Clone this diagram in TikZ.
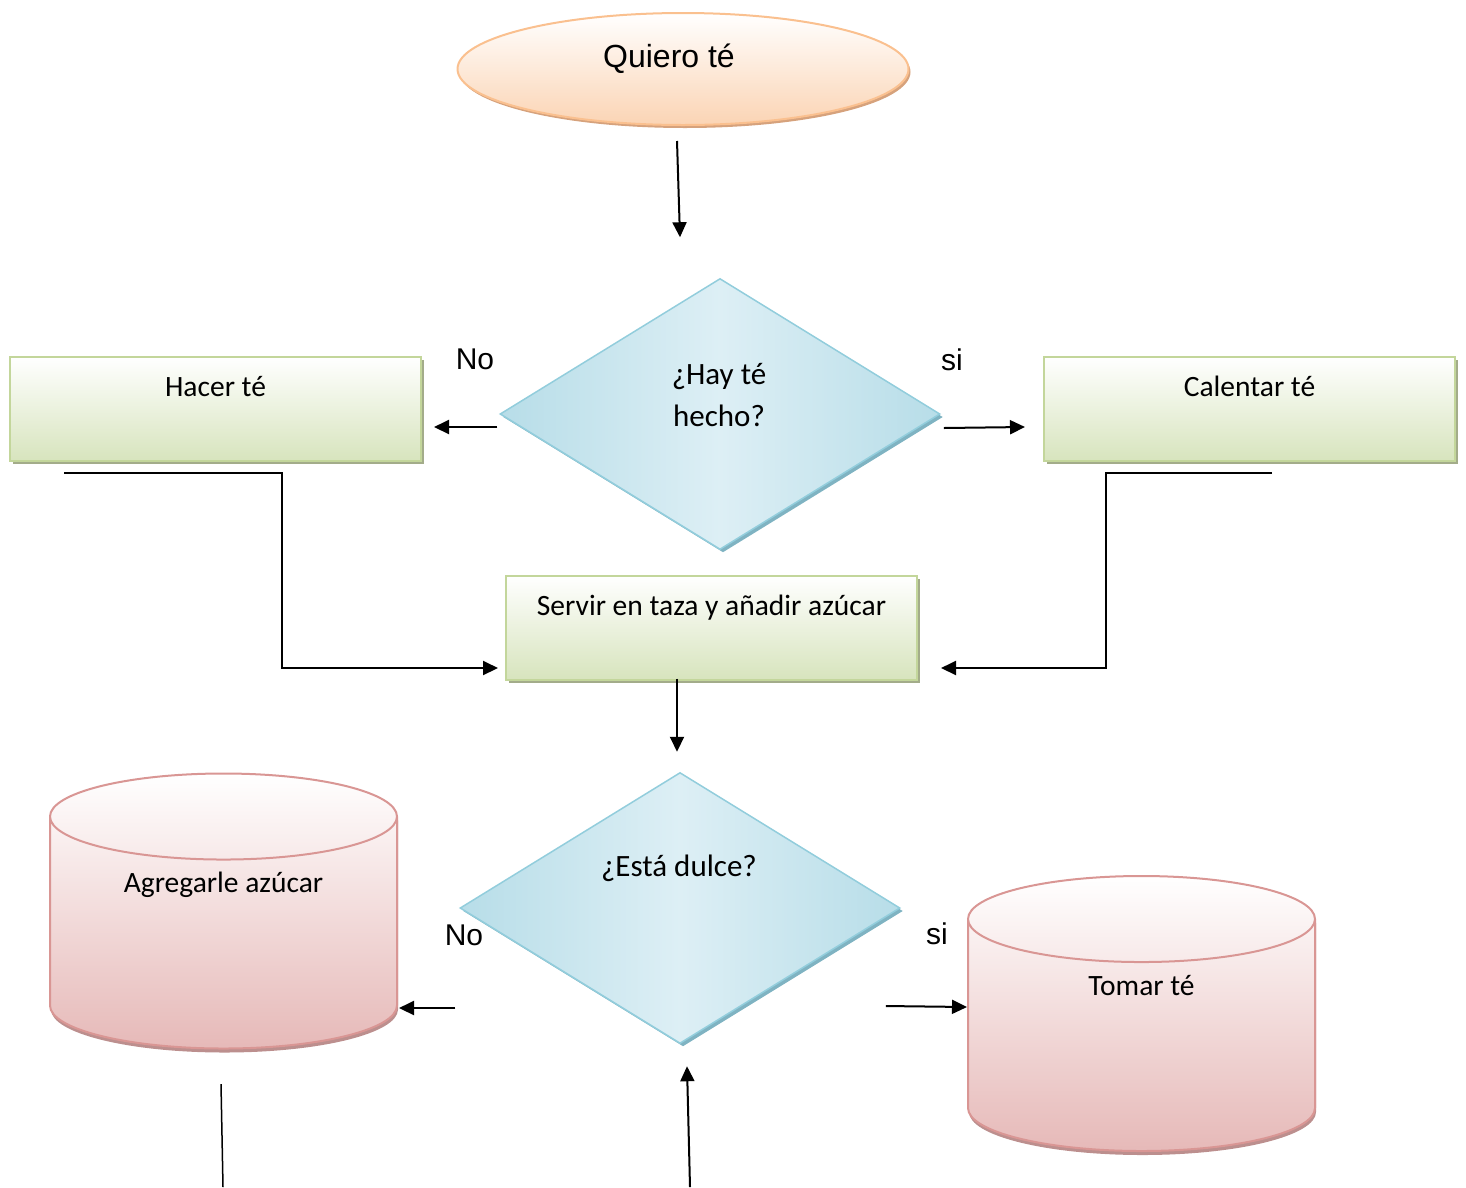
\documentclass[tikz,border=0pt]{standalone}
\usepackage{fontspec}
\setmainfont{Carlito}
\newfontfamily\arialfont{Liberation Sans}
\usetikzlibrary{arrows.meta, shapes.geometric, shadows}

\definecolor{peachline}{HTML}{FAC08F}
\definecolor{peachfill}{HTML}{FBD4B4}
\definecolor{peachshadow}{HTML}{D6A27C}
\definecolor{greenline}{HTML}{C3D69B}
\definecolor{greenfill}{HTML}{D7E4BD}
\definecolor{greenshadow}{HTML}{A3AC8A}
\definecolor{blueline}{HTML}{92CDDC}
\definecolor{bluefill}{HTML}{B7DDE8}
\definecolor{bluelight}{HTML}{DDEFF5}
\definecolor{blueshadow}{HTML}{7FB3C2}
\definecolor{pinkline}{HTML}{D99694}
\definecolor{pinkfill}{HTML}{E6B9B8}
\definecolor{pinkshadow}{HTML}{BC8F8E}

\begin{document}
\begin{tikzpicture}[x=1pt, y=-1pt,
  terminal/.style={ellipse, draw=peachline, line width=2pt, top color=white, bottom color=peachfill,
    drop shadow={shadow xshift=2pt, shadow yshift=-3pt, fill=peachshadow, opacity=1},
    minimum width=451pt, minimum height=112pt, inner sep=0pt,
    font=\arialfont\fontsize{32}{38}\selectfont, text height=25pt, text depth=29pt},
  proceso/.style={rectangle, draw=greenline, line width=2pt, top color=white, bottom color=greenfill,
    drop shadow={shadow xshift=3pt, shadow yshift=-3pt, fill=greenshadow, opacity=1},
    minimum width=411pt, minimum height=104pt, inner sep=0pt,
    font=\fontsize{29.5}{35}\selectfont, text height=20pt, text depth=45pt},
  decision/.style={diamond, draw=blueline, line width=1.5pt, left color=bluefill, right color=bluefill, middle color=bluelight,
    drop shadow={shadow xshift=3pt, shadow yshift=-3pt, fill=blueshadow, opacity=1},
    minimum width=440pt, minimum height=271pt, inner sep=0pt, aspect=1.62},
  almacen/.style={cylinder, shape border rotate=90, aspect=0.253, draw=pinkline, line width=2pt,
    top color=white, bottom color=pinkfill,
    drop shadow={shadow xshift=1pt, shadow yshift=-4pt, fill=pinkshadow, opacity=1},
    minimum width=347pt, minimum height=275pt, inner sep=0pt,
    execute at begin node={\hbox to 340pt\bgroup\hss},
    execute at end node={\hss\egroup},
    font=\fontsize{29.5}{35}\selectfont, text height=20pt, text depth=101pt},
  question/.style={font=\fontsize{31}{42}\selectfont, align=center, inner sep=0pt},
  answer/.style={font=\arialfont\fontsize{30}{34}\selectfont, anchor=base, inner sep=0pt},
  arr/.style={line width=2pt, -{Triangle[length=15pt, width=14pt]}},
  link/.style={line width=2pt}
]
\useasboundingbox (0,0) rectangle (1466,1187);

% shapes
\node[terminal] (quiero) at (683,69) {Quiero té\hspace*{28pt}};
\node[decision] (hay) at (720,414) {};
\node[question] (hayq) at (719,395) {¿Hay té\\hecho?};
\node[proceso] (hacer) at (215.5,409) {Hacer té};
\node[proceso] (calentar) at (1249.5,409) {Calentar té};
\node[proceso] (servir) at (711.5,627.5) {Servir en taza y añadir azúcar};
\node[decision] (dulce) at (680,908) {};
\node[question, anchor=base] (dulceq) at (679,876) {¿Está dulce?};
\node[almacen, anchor=shape center] (agregar) at (223.5,911) {Agregarle azúcar};
\node[almacen, anchor=shape center] (tomar) at (1141.5,1013.5) {Tomar té};

% answers
\node[answer] (no1) at (475,369) {No};
\node[answer] (si1) at (952,370) {si};
\node[answer] (no2) at (464,945) {No};
\node[answer] (si2) at (937,944) {si};

\coordinate (salida) at (223,1187);
\coordinate (entrada) at (690,1187);

% connectors
\draw[arr] ([shift={(-6,15)}]quiero.south) -- ([shift={(-40,-40.5)}]hay.north);
\draw[arr] ([shift={(-2,13)}]hay.west) -- ([shift={(12,18)}]hacer.east);
\draw[arr] ([shift={(3,14)}]hay.east) -- ([shift={(-18,18)}]calentar.west);
\draw[arr] ([shift={(-151.5,11)}]hacer.south) -- ++(218,0) |- ([shift={(-7,40.5)}]servir.west);
\draw[arr] ([shift={(22.5,11)}]calentar.south) -- ++(-166,0) |- ([shift={(23,40.5)}]servir.east);
\draw[arr] ([shift={(-34.5,-2)}]servir.south) -- ([shift={(-3,-20)}]dulce.north);
\draw[arr] ([shift={(-4,100)}]dulce.west) -- ([shift={(175.5,97)}]agregar.shape center);
\draw[arr] ([shift={(-15,98)}]dulce.east) -- ([shift={(-174.5,-6.5)}]tomar.shape center);
\draw[link, line width=1.5pt] ([shift={(-2.5,173)}]agregar.shape center) -- (salida);
\draw[arr] (entrada) -- ([shift={(7,22)}]dulce.south);
\end{tikzpicture}
\end{document}
